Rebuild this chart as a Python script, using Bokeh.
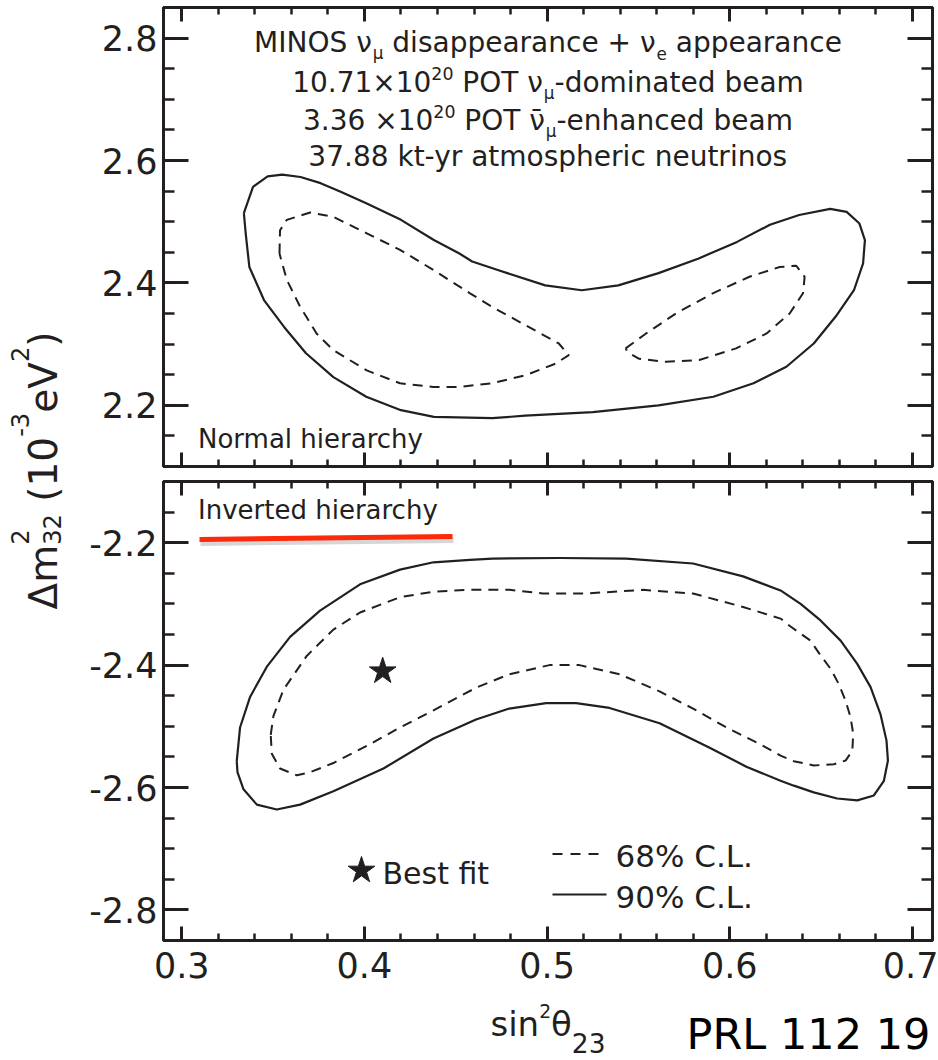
import math
from bokeh.plotting import figure
from bokeh.layouts import row, column
from bokeh.models import Range1d, LinearAxis, FixedTicker, Label, CustomJSTickFormatter
from bokeh.embed import file_html
from bokeh.resources import INLINE

INK = "#231f20"
FONT = "DejaVu Sans"

# ---------------- data ----------------
x_ticks = [0.3, 0.4, 0.5, 0.6, 0.7]
x_minor_ticks = [0.30, 0.32, 0.34, 0.36, 0.38, 0.40, 0.42, 0.44, 0.46, 0.48, 0.50,
                 0.52, 0.54, 0.56, 0.58, 0.60, 0.62, 0.64, 0.66, 0.68, 0.70]
nh_y_ticks = [2.2, 2.4, 2.6, 2.8]
nh_y_minor = [2.15, 2.2, 2.25, 2.3, 2.35, 2.4, 2.45, 2.5, 2.55, 2.6, 2.65, 2.7, 2.75, 2.8]
ih_y_ticks = [-2.8, -2.6, -2.4, -2.2]
ih_y_minor = [-2.8, -2.75, -2.7, -2.65, -2.6, -2.55, -2.5, -2.45, -2.4, -2.35, -2.3, -2.25, -2.2, -2.15]

# Normal hierarchy, 90% C.L. (solid)
nh90_x = [0.334, 0.339, 0.347, 0.355, 0.365, 0.376, 0.387, 0.401, 0.420, 0.438, 0.452, 0.459,
          0.473, 0.499, 0.519, 0.539, 0.561, 0.583, 0.604, 0.622, 0.638, 0.655, 0.664, 0.671,
          0.674, 0.673, 0.668, 0.658, 0.646, 0.631, 0.613, 0.591, 0.561, 0.525, 0.488, 0.470,
          0.438, 0.420, 0.401, 0.383, 0.368, 0.356, 0.345, 0.337, 0.335, 0.334]
nh90_y = [2.514, 2.557, 2.574, 2.577, 2.573, 2.563, 2.549, 2.530, 2.503, 2.470, 2.448, 2.435,
          2.421, 2.396, 2.388, 2.396, 2.416, 2.440, 2.467, 2.495, 2.511, 2.521, 2.516, 2.497,
          2.470, 2.432, 2.388, 2.345, 2.301, 2.263, 2.236, 2.214, 2.200, 2.189, 2.183, 2.179,
          2.181, 2.192, 2.214, 2.246, 2.285, 2.328, 2.372, 2.426, 2.481, 2.514]
# Normal hierarchy, 68% C.L. (dashed), two islands
nh68a_x = [0.3535, 0.3538, 0.3575, 0.3703, 0.3830, 0.4013, 0.4195, 0.4378, 0.4578, 0.4698,
           0.4881, 0.5064, 0.5119, 0.5046, 0.4881, 0.4698, 0.4515, 0.4378, 0.4195, 0.4013,
           0.3830, 0.3739, 0.3648, 0.3575, 0.3535]
nh68a_y = [2.448, 2.486, 2.503, 2.515, 2.508, 2.481, 2.454, 2.421, 2.383, 2.361,
           2.331, 2.301, 2.282, 2.268, 2.249, 2.236, 2.230, 2.230, 2.236, 2.257,
           2.290, 2.317, 2.361, 2.405, 2.448]
nh68b_x = [0.5430, 0.5540, 0.5705, 0.5907, 0.6108, 0.6273, 0.6364, 0.6410, 0.6401, 0.6328,
           0.6200, 0.6035, 0.5833, 0.5650, 0.5504, 0.5440, 0.5430]
nh68b_y = [2.293, 2.317, 2.350, 2.383, 2.410, 2.426, 2.428, 2.410, 2.383, 2.350,
           2.317, 2.293, 2.274, 2.271, 2.276, 2.287, 2.293]
# Inverted hierarchy, 90% C.L. (solid)
ih90_x = [0.3301, 0.3319, 0.3374, 0.3465, 0.3593, 0.3757, 0.3976, 0.4195, 0.4378, 0.4578,
          0.4702, 0.5068, 0.5433, 0.5799, 0.6073, 0.6278, 0.6388, 0.6497, 0.6607, 0.6698,
          0.6771, 0.6825, 0.6858, 0.6866, 0.6844, 0.6789, 0.6698, 0.6588, 0.6460, 0.6351,
          0.6278, 0.6091, 0.5890, 0.5616, 0.5342, 0.5159, 0.4995, 0.4793, 0.4611, 0.4378,
          0.4104, 0.3830, 0.3648, 0.3520, 0.3411, 0.3338, 0.3305, 0.3301]
ih90_y = [-2.557, -2.502, -2.452, -2.403, -2.354, -2.311, -2.268, -2.244, -2.232, -2.228,
          -2.226, -2.225, -2.226, -2.234, -2.255, -2.278, -2.300, -2.327, -2.360, -2.398,
          -2.436, -2.480, -2.523, -2.556, -2.589, -2.613, -2.621, -2.618, -2.608, -2.597,
          -2.589, -2.566, -2.535, -2.495, -2.470, -2.462, -2.462, -2.471, -2.489, -2.520,
          -2.569, -2.606, -2.628, -2.636, -2.628, -2.603, -2.575, -2.557]
# Inverted hierarchy, 68% C.L. (dashed)
ih68_x = [0.3487, 0.3502, 0.3557, 0.3684, 0.3830, 0.3976, 0.4195, 0.4378, 0.4578, 0.4793,
          0.4976, 0.5214, 0.5525, 0.5799, 0.6073, 0.6278, 0.6333, 0.6442, 0.6497, 0.6552,
          0.6597, 0.6634, 0.6661, 0.6676, 0.6671, 0.6634, 0.6570, 0.6460, 0.6351, 0.6278,
          0.6165, 0.5982, 0.5799, 0.5616, 0.5397, 0.5177, 0.5013, 0.4793, 0.4611, 0.4378,
          0.4195, 0.4013, 0.3830, 0.3703, 0.3630, 0.3538, 0.3493, 0.3487]
ih68_y = [-2.514, -2.483, -2.440, -2.385, -2.342, -2.314, -2.289, -2.280, -2.277, -2.277,
          -2.283, -2.283, -2.277, -2.283, -2.305, -2.324, -2.337, -2.360, -2.384, -2.406,
          -2.431, -2.458, -2.485, -2.512, -2.540, -2.556, -2.562, -2.564, -2.557, -2.548,
          -2.529, -2.502, -2.471, -2.443, -2.415, -2.400, -2.400, -2.415, -2.437, -2.474,
          -2.502, -2.532, -2.560, -2.575, -2.580, -2.569, -2.545, -2.514]
best_x = [0.41]
best_y = [-2.41]

# ---------------- layout ----------------
LAB_W = 80
PW = 858
TOP_H = 473
BOT_H = 522
STRIP_H = 65
LAB_H = TOP_H + BOT_H
WIN_W = LAB_W + PW
WIN_H = TOP_H + BOT_H + STRIP_H
X0, X1 = 0.29, 0.711
K = 0.37  # Label alphabetic-baseline correction (fraction of font size)


def fx(px):
    return X0 + (px - 163) * (X1 - X0) / 769


def fy_nh(py):
    return 2.85 - (py - 7) * 0.75 / 459


def fy_ih(py):
    return -2.10 - (py - 481) * 0.75 / 459


def sx_strip(px):
    return px


def sy_strip(py):
    return WIN_H - py


# DejaVu Sans advance widths (em)
WID = {' ': .318, '.': .318, '-': .361, '+': .838, '×': .838, '%': .950, '(': .390, ')': .390,
       'a': .613, 'b': .635, 'c': .550, 'd': .635, 'e': .615, 'f': .352, 'h': .634, 'i': .278,
       'k': .579, 'l': .278, 'm': .974, 'n': .634, 'o': .612, 'p': .635, 'r': .411, 's': .521,
       't': .392, 'u': .634, 'v': .592, 'y': .592, 'B': .686, 'C': .698, 'I': .295, 'L': .557,
       'M': .863, 'N': .748, 'O': .787, 'P': .603, 'R': .695, 'S': .635, 'T': .611, 'V': .684,
       'ν': .592, 'μ': .635, 'θ': .612, 'Δ': .684, '\u0304': 0.0}
for d in "0123456789":
    WID[d] = .636


def tw(s, size):
    return sum(WID.get(c, 0.6) for c in s) * size


def lab_h(fig, px, py, text, size, mapx, mapy, color=INK):
    """Horizontal text; (px, py) = start of the alphabetic baseline in window pixels."""
    lead = len(text) - len(text.lstrip(" "))
    px = px + lead * WID[' '] * size
    fig.add_layout(Label(x=mapx(px), y=mapy(py - K * size), text=text.strip(" "), text_font=FONT,
                         text_font_size=f"{size:.1f}px", text_color=color, text_align="left",
                         text_baseline="alphabetic"))


def lab_v(fig, px, py, text, size, color=INK):
    """Text rotated by +90 deg in a pixel-unit figure; baseline at x = px, start at y = py."""
    lead = len(text) - len(text.lstrip(" "))
    py = py - lead * WID[' '] * size
    fig.add_layout(Label(x=px - K * size, y=LAB_H - py, text=text.strip(" "), text_font=FONT,
                         text_font_size=f"{size:.1f}px", text_color=color, text_align="left",
                         text_baseline="alphabetic", angle=math.pi / 2))


def rich_h(fig, segs, fs, cx, base, mapx, mapy, color=INK):
    total = sum(tw(t, fs * sc) for t, sc, dy, adv in segs if adv)
    x = cx - total / 2
    for t, sc, dy, adv in segs:
        lab_h(fig, x, base + dy, t, fs * sc, mapx, mapy, color)
        if adv:
            x += tw(t, fs * sc)


def rich_v(fig, segs, fs, cy, basex):
    total = sum(tw(t, fs * sc) for t, sc, dy, adv in segs if adv)
    py = cy + total / 2
    for t, sc, dy, adv in segs:
        lab_v(fig, basex + dy, py, t, fs * sc)
        if adv:
            py -= tw(t, fs * sc)


FMT = CustomJSTickFormatter(code="return tick.toFixed(1);")


def style_axis(ax, tin, tmin, show, standoff=0):
    ax.axis_line_color = INK
    ax.axis_line_width = 3
    ax.major_tick_in = tin
    ax.major_tick_out = 0
    ax.minor_tick_in = tmin
    ax.minor_tick_out = 0
    ax.major_tick_line_color = INK
    ax.major_tick_line_width = 3
    ax.minor_tick_line_color = INK
    ax.minor_tick_line_width = 2.5
    ax.formatter = FMT
    if show:
        ax.major_label_text_font = FONT
        ax.major_label_text_font_size = "35px"
        ax.major_label_text_color = INK
        ax.major_label_standoff = standoff
    else:
        ax.major_label_text_font_size = "0px"
        ax.major_label_text_color = None
        ax.major_label_standoff = 0


def panel(height, yr, bt, bb, yticks, yminor, xlabels):
    p = figure(width=PW, height=height, x_range=Range1d(X0, X1), y_range=Range1d(*yr),
               output_backend="svg", toolbar_location=None, tools="",
               min_border_left=83, min_border_right=6, min_border_top=bt, min_border_bottom=bb,
               x_axis_location=None, y_axis_location=None)
    p.grid.visible = False
    p.outline_line_color = INK
    p.outline_line_width = 3
    p.background_fill_color = "white"
    p.border_fill_color = "white"
    xt = FixedTicker(ticks=x_ticks, minor_ticks=x_minor_ticks)
    yt = FixedTicker(ticks=yticks, minor_ticks=yminor)
    for side in ("below", "above"):
        ax = LinearAxis(ticker=xt)
        style_axis(ax, 14, 7, side == "below" and xlabels, 11)
        p.add_layout(ax, side)
    for side in ("left", "right"):
        ax = LinearAxis(ticker=yt)
        style_axis(ax, 25, 11, side == "left", 6)
        p.add_layout(ax, side)
    return p


# ---------- top panel: normal hierarchy ----------
top = panel(TOP_H, (2.10, 2.85), 7, 7, nh_y_ticks, nh_y_minor, False)
top.line(nh90_x, nh90_y, line_color=INK, line_width=2.2, line_join="round")
top.line(nh68a_x, nh68a_y, line_color=INK, line_width=2.0, line_dash="10 7")
top.line(nh68b_x, nh68b_y, line_color=INK, line_width=2.0, line_dash="10 7")

SUB = (0.6, 6.5)
SUP = (0.62, -13)
title_lines = [
    ([("MINOS ν", 1, 0, True), ("μ", SUB[0], SUB[1], True), (" disappearance + ν", 1, 0, True),
      ("e", SUB[0], SUB[1], True), (" appearance", 1, 0, True)], 52.3),
    ([("10.71×10", 1, 0, True), ("20", SUP[0], SUP[1], True), (" POT ν", 1, 0, True),
      ("μ", SUB[0], SUB[1], True), ("-dominated beam", 1, 0, True)], 92.5),
    ([("3.36 ×10", 1, 0, True), ("20", SUP[0], SUP[1], True), (" POT ν\u0304", 1, 0, True),
      ("μ", SUB[0], SUB[1], True), ("-enhanced beam", 1, 0, True)], 130.0),
    ([("37.88 kt-yr atmospheric neutrinos", 1, 0, True)], 166.7),
]
for segs, base in title_lines:
    rich_h(top, segs, 28, 547.5, base, fx, fy_nh)
lab_h(top, 197.5, 448, "Normal hierarchy", 26, fx, fy_nh)

# ---------- bottom panel: inverted hierarchy ----------
bot = panel(BOT_H, (-2.85, -2.10), 8, BOT_H - 8 - 459, ih_y_ticks, ih_y_minor, True)
bot.line(ih90_x, ih90_y, line_color=INK, line_width=2.2, line_join="round")
bot.line(ih68_x, ih68_y, line_color=INK, line_width=2.0, line_dash="10 7")
bot.scatter(best_x, best_y, marker="star", size=28, fill_color=INK, line_color=INK)

lab_h(bot, 197.5, 519, "Inverted hierarchy", 26, fx, fy_ih)
# red underline (hand annotation) with a soft shadow
bot.line([fx(200), fx(453)], [fy_ih(542.5), fy_ih(539.5)], line_color="#777777",
         line_alpha=0.3, line_width=6)
bot.line([fx(199), fx(452)], [fy_ih(539), fy_ih(536)], line_color="#fa2a0a", line_width=5)

# legend
bot.scatter([fx(361)], [fy_ih(870)], marker="star", size=28, fill_color=INK, line_color=INK)
lab_h(bot, 382, 883.6, "Best fit", 30, fx, fy_ih)
bot.line([fx(552), fx(600)], [fy_ih(853.5), fy_ih(853.5)], line_color=INK, line_width=2.0,
         line_dash="10 8")
bot.line([fx(552), fx(606)], [fy_ih(894), fy_ih(894)], line_color=INK, line_width=2.2)
lab_h(bot, 615, 866.7, "68% C.L.", 31, fx, fy_ih)
lab_h(bot, 615, 908, "90% C.L.", 31, fx, fy_ih)

# ---------- bottom strip: x axis title and reference ----------
strip = figure(width=WIN_W, height=STRIP_H, x_range=Range1d(0, WIN_W),
               y_range=Range1d(0, STRIP_H), output_backend="svg",
               toolbar_location=None, tools="", min_border=0,
               x_axis_location=None, y_axis_location=None)
strip.grid.visible = False
strip.outline_line_color = None
strip.background_fill_color = "white"
strip.border_fill_color = "white"
rich_h(strip, [("sin", 1, 0, True), ("2", 0.55, -19, True), ("θ", 1, 0, True),
               ("23", 0.78, 16, True)], 34, 547.5, 1036, sx_strip, sy_strip)
lab_h(strip, 686, 1049, "PRL 112 19", 43, sx_strip, sy_strip, color="#000000")

# ---------- left strip with the rotated y-axis title ----------
lab_fig = figure(width=LAB_W, height=LAB_H, x_range=Range1d(0, LAB_W), y_range=Range1d(0, LAB_H),
                 output_backend="svg", toolbar_location=None, tools="",
                 min_border=0, x_axis_location=None, y_axis_location=None)
lab_fig.grid.visible = False
lab_fig.outline_line_color = None
lab_fig.background_fill_color = "white"
lab_fig.border_fill_color = "white"
ylab = [("Δm", 1, 0, True), ("2", 0.62, -29, False), ("32", 0.62, 3, True), (" (10", 1, 0, True),
        ("-3", 0.62, -29, True), ("eV", 1, 0, True), ("2", 0.62, -29, True), (")", 1, 0, True)]
rich_v(lab_fig, ylab, 39, 470, 57)

layout = column(row(lab_fig, column(top, bot)), strip)
open("out.html", "w").write(file_html(layout, INLINE))
